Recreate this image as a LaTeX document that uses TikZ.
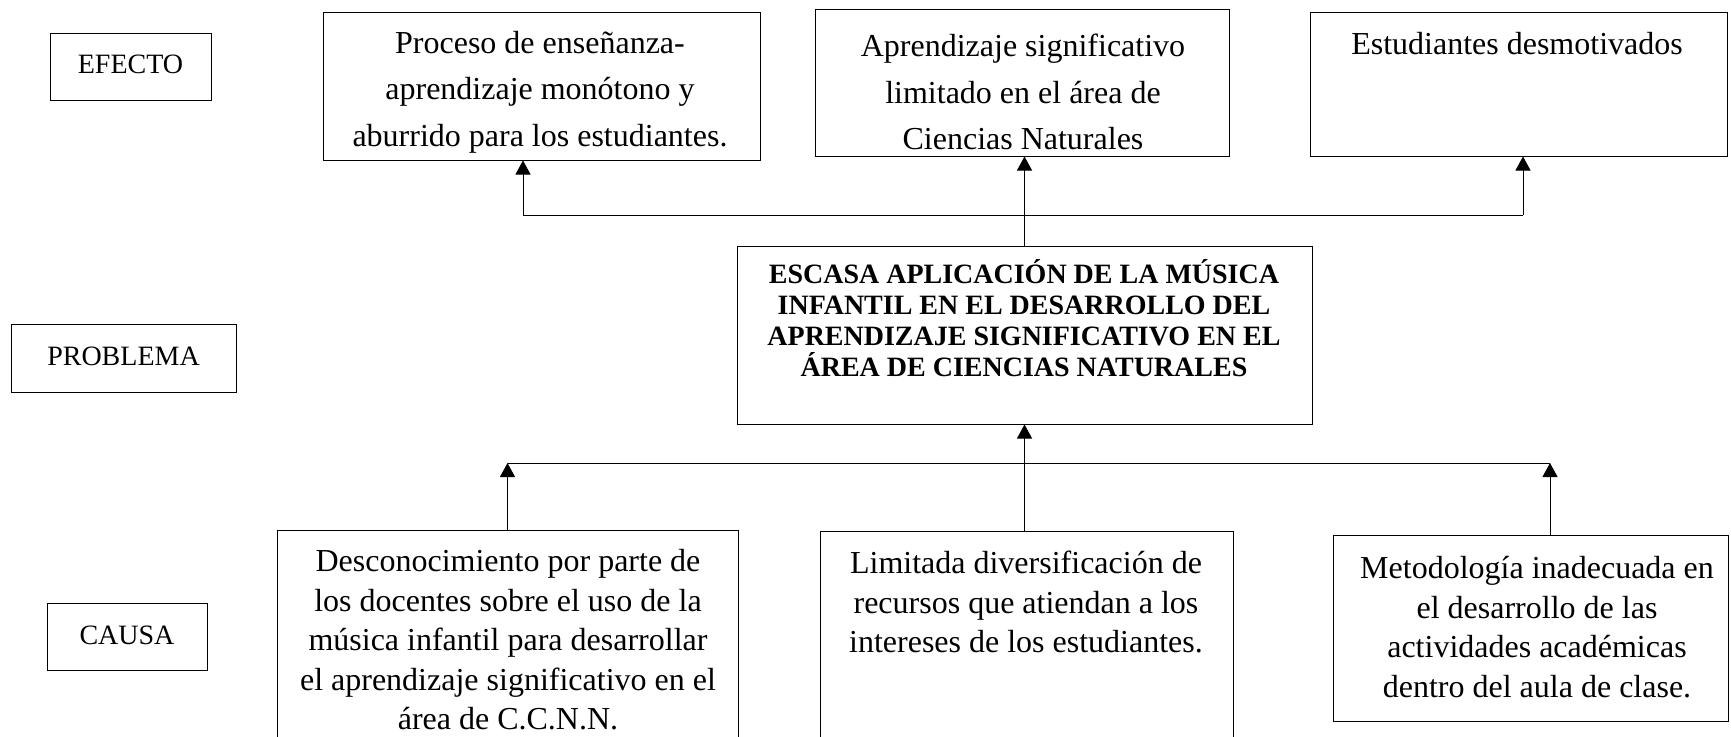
\documentclass[tikz,border=0pt]{standalone}
\usepackage{fontspec}
\setmainfont{Liberation Serif}
\usetikzlibrary{arrows.meta}
\begin{document}
\begin{tikzpicture}[x=1pt,y=-1pt,
  box/.style={draw, line width=1pt, rectangle, inner sep=0pt},
  lbl/.style={font=\fontsize{28}{32}\selectfont},
  etxt/.style={align=center, inner sep=0pt, font=\fontsize{32}{46.4}\selectfont},
  ctxt/.style={align=center, inner sep=0pt, font=\fontsize{32}{39.5}\selectfont},
  ptxt/.style={align=center, inner sep=0pt, font=\fontsize{28}{31}\selectfont\bfseries},
  conn/.style={line width=1pt},
  arr/.style={line width=1pt, -{Triangle[width=15pt,length=14pt]}}]
\useasboundingbox (0,0) rectangle (1731,736);
% label boxes
\node[box, minimum width=161pt, minimum height=67pt] (efecto) at (130.5,66.5) {};
\node[lbl] (efectot) at (130.5,64) {EFECTO};
\node[box, minimum width=225pt, minimum height=68pt] (problema) at (123.5,358) {};
\node[lbl] (problemat) at (123.5,356) {PROBLEMA};
\node[box, minimum width=160pt, minimum height=67pt] (causa) at (127,636.5) {};
\node[lbl] (causat) at (127,635) {CAUSA};
% effect boxes
\node[box, minimum width=437pt, minimum height=148pt] (e1) at (541.5,86) {};
\node[etxt] (e1t) at (540,92) {Proceso de enseñanza-\\aprendizaje monótono y\\aburrido para los estudiantes.};
\node[box, minimum width=414pt, minimum height=147pt] (e2) at (1022,82.5) {};
\node[etxt] (e2t) at (1023,92) {Aprendizaje significativo\\limitado en el área de\\Ciencias Naturales};
\node[box, minimum width=417pt, minimum height=144pt] (e3) at (1518.5,84) {};
\node[etxt] (e3t) at (1517,44) {Estudiantes desmotivados};
% problem box
\node[box, minimum width=575pt, minimum height=178pt] (prob) at (1024.5,335) {};
\node[ptxt] (probt) at (1024,318) {ESCASA APLICACIÓN DE LA MÚSICA\\INFANTIL EN EL DESARROLLO DEL\\APRENDIZAJE SIGNIFICATIVO EN EL\\ÁREA DE CIENCIAS NATURALES};
% cause boxes
\node[box, minimum width=461pt, minimum height=215pt] (c1) at (507.5,637.5) {};
\node[ctxt] (c1t) at (508,640) {Desconocimiento por parte de\\los docentes sobre el uso de la\\música infantil para desarrollar\\el aprendizaje significativo en el\\área de C.C.N.N.};
\node[box, minimum width=413pt, minimum height=214pt] (c2) at (1026.5,638) {};
\node[ctxt] (c2t) at (1026,602) {Limitada diversificación de\\recursos que atiendan a los\\intereses de los estudiantes.};
\node[box, minimum width=395pt, minimum height=186pt] (c3) at (1530.5,628) {};
\node[ctxt] (c3t) at (1537,627) {Metodología inadecuada en\\el desarrollo de las\\actividades académicas\\dentro del aula de clase.};
% top connectors
\coordinate (j1) at (523,215);
\coordinate (j3) at (1523,215);
\draw[conn] (j1) -- (j3);
\draw[arr] (j1) -- (j1 |- e1.south);
\draw[arr] (prob.north) -- (prob.north |- e2.south);
\draw[arr] (j3) -- (j3 |- e3.south);
% bottom connectors
\coordinate (k1) at (507.5,463);
\coordinate (k3) at (1550,463);
\draw[conn] (k1) -- (k3);
\draw[arr] (c1.north) -- (k1);
\draw[arr] (c2.north -| prob.south) -- (prob.south);
\draw[arr] (k3 |- c3.north) -- (k3);
\end{tikzpicture}
\end{document}
